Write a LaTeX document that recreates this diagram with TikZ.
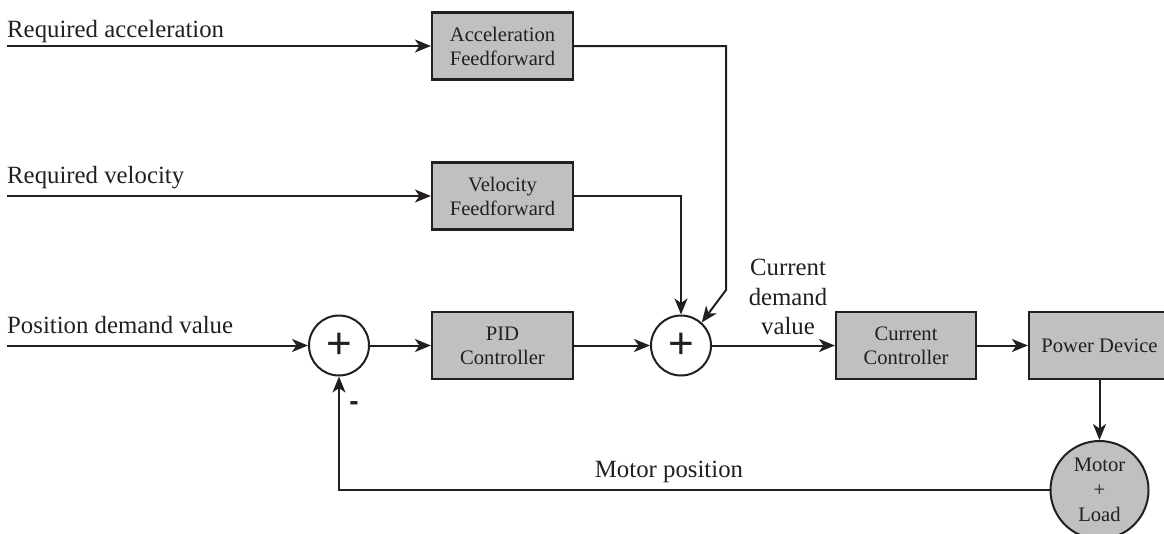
\documentclass[tikz,border=0pt]{standalone}
\usepackage{fontspec}
\setmainfont{Liberation Serif}
\newfontfamily\plusfont{Liberation Sans}
\usetikzlibrary{arrows.meta}
\definecolor{ink}{HTML}{231F20}
\definecolor{boxgray}{HTML}{C0C0C0}
\begin{document}
\begin{tikzpicture}[x=1pt,y=-1pt,
  blk/.style={draw=ink, line width=2.2pt, fill=boxgray, minimum width=141pt, minimum height=67pt,
    inner sep=0pt, align=center, font=\fontsize{20.6}{24}\selectfont, text=ink},
  sumc/.style={circle, draw=ink, line width=2pt, fill=white, minimum size=60pt, inner sep=0pt,
    font=\plusfont\fontsize{44}{44}\selectfont, text=ink},
  wire/.style={draw=ink, line width=2pt},
  arr/.style={wire, -{Stealth[length=16pt,width=13pt,inset=4.5pt]}},
  lbl/.style={font=\fontsize{24.8}{29.5}\selectfont, text=ink, inner sep=0pt}]
\useasboundingbox (0,0) rectangle (1164,533);
\clip (0,0) rectangle (1164,533);
% blocks
\node[blk] (acc) at (502.5,46) {Acceleration\\Feedforward};
\node[blk] (vel) at (502.5,196) {Velocity\\Feedforward};
\node[blk] (pid) at (502.5,345.5) {PID\\Controller};
\node[sumc] (s1) at (339,345.5) {+};
\node[sumc] (s2) at (681,345.5) {+};
\node[blk, minimum width=140pt] (cc) at (906,345.5) {Current\\Controller};
\node[blk] (pd) at (1099.5,345.5) {Power Device};
\node[circle, draw=ink, line width=2pt, fill=boxgray, minimum size=98pt, inner sep=0pt,
  align=center, font=\fontsize{20.6}{25}\selectfont, text=ink] (mot) at (1099.5,490) {Motor\\+\\Load};
% free ends
\coordinate (ina) at (7,46);
\coordinate (inv) at (7,196);
\coordinate (inp) at (7,345.5);
\coordinate (abend) at (726,290);
% connectors
\draw[arr] (ina) -- (acc);
\draw[arr] (inv) -- (vel);
\draw[arr] (inp) -- (s1);
\draw[arr] (s1) -- (pid);
\draw[arr] (pid) -- (s2);
\draw[arr] (s2) -- (cc);
\draw[arr] (cc) -- (pd);
\draw[arr] (pd) -- (mot);
\draw[arr] (acc.east) -| (abend) -- (s2.48);
\draw[arr] (vel.east) -| (s2.north);
\draw[arr] (mot.west) -| (s1.south);
% labels
\node[lbl, anchor=base west] (la) at (7,37) {Required acceleration};
\node[lbl, anchor=base west] (lv) at (7,183) {Required velocity};
\node[lbl, anchor=base west] (lp) at (7,333) {Position demand value};
\node[lbl, align=center] (lc) at (788,297) {Current\\demand\\value};
\node[lbl, anchor=base] (lm) at (669,477) {Motor position};
\node[font=\plusfont\bfseries\fontsize{28}{28}\selectfont, text=ink, inner sep=0pt] (minus) at (354,406) {-};
\end{tikzpicture}
\end{document}
